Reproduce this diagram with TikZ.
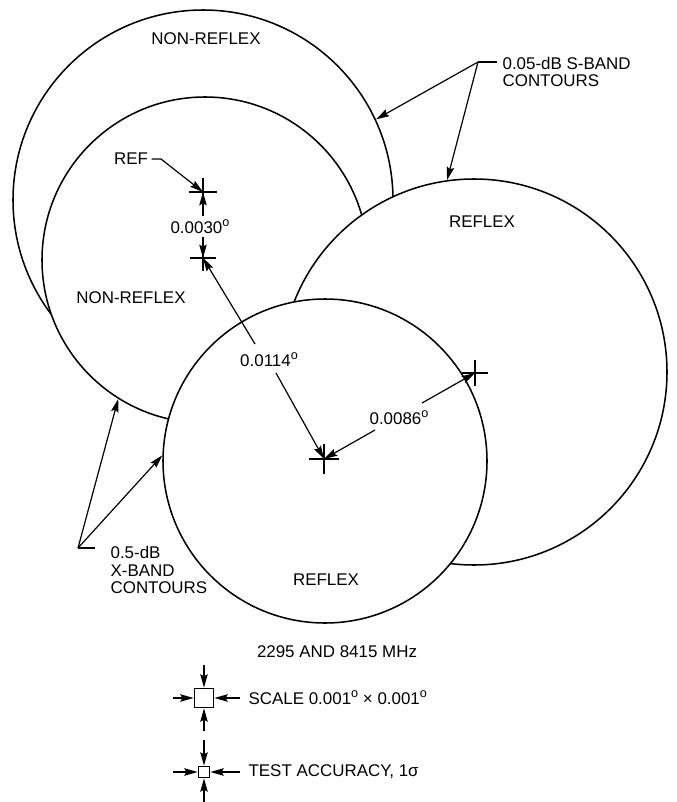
\documentclass[tikz,border=0pt]{standalone}
\usepackage{fontspec}
\setmainfont{Liberation Sans}
\usetikzlibrary{arrows.meta}
\newcommand{\degsup}{\raisebox{0.75ex}{\fontsize{9.5}{9.5}\selectfont o}}
\begin{document}
\begin{tikzpicture}[x=0.75pt,y=-0.75pt,line width=0.9pt,
  contour/.style={circle,draw,fill=white,inner sep=0pt,line width=1.15pt},
  lbl/.style={inner sep=0pt,font=\fontsize{12.7}{13}\selectfont},
  arr/.style={-{Stealth[length=10pt,width=5.6pt,inset=1.5pt]}},
  crossmark/.style={inner sep=0pt,minimum size=#1},
  legendbox/.style={draw,inner sep=0pt,line width=1.3pt,minimum size=#1}]
\useasboundingbox (0,0) rectangle (677,802);
% contours, back to front
\node[contour,minimum size=285pt] (outerNR) at (203,200) {};
\node[contour,minimum size=244.5pt] (innerNR) at (205,260) {};
\node[contour,minimum size=289.5pt] (outerR) at (474,372) {};
\node[contour,minimum size=243pt] (innerR) at (325,461) {};
% crosses
\node[crossmark=19.5pt] (ref) at (203,192) {};
\node[crossmark=18pt] (nr) at (203,258) {};
\node[crossmark=18pt] (rs) at (475,373) {};
\node[crossmark=21pt] (rx) at (324,459) {};
\foreach \c in {ref,nr,rs,rx}
  \draw (\c.north) -- (\c.south) (\c.west) -- (\c.east);
% region labels
\node[lbl] (t1) at (206,39) {NON-REFLEX};
\node[lbl] (t2) at (131,298) {NON-REFLEX};
\node[lbl] (t3) at (482,222) {REFLEX};
\node[lbl] (t4) at (326,580) {REFLEX};
% REF
\node[lbl] (reflbl) at (131,159) {REF};
\coordinate (refk) at (161,159);
\draw[arr] (reflbl.east) ++(3,0) -- (refk) -- (ref.center);
% 0.0030
\node[lbl] (l030) at (200,227) {0.0030\degsup};
\coordinate (a030u) at (203,216);
\coordinate (a030d) at (203,237);
\draw[arr] (a030u) -- (ref.center);
\draw[arr] (a030d) -- (nr.center);
% 0.0114
\node[lbl] (l114) at (269,360) {0.0114\degsup};
\coordinate (a114u) at (255,344);
\coordinate (a114d) at (276,373);
\draw[arr] (a114u) -- (nr.center);
\draw[arr] (a114d) -- (rx.center);
% 0.0086
\node[lbl] (l086) at (399,418) {0.0086\degsup};
\coordinate (a086u) at (422,403);
\coordinate (a086d) at (375,430);
\draw[arr] (a086u) -- (rs.center);
\draw[arr] (a086d) -- (rx.center);
% S-band callout
\node[lbl,anchor=west,align=left] (sband) at (502,72) {0.05-dB S-BAND\\CONTOURS};
\coordinate (sk) at (478,62);
\draw (497,62) -- (sk);
\draw[arr] (sk) -- (outerNR.25);
\draw[arr] (sk) -- (outerR.98);
% X-band callout
\node[lbl,anchor=west,align=left] (xband) at (110,570) {0.5-dB\\X-BAND\\CONTOURS};
\coordinate (xk) at (78,548);
\draw (95,548) -- (xk);
\draw[arr] (xk) -- (innerNR.238);
\draw[arr] (xk) -- (innerR.178.6);
% legend
\node[lbl] (freq) at (337,652) {2295 AND 8415 MHz};
\node[legendbox=14.25pt] (sq1) at (204,698) {};
\node[lbl,anchor=west] (scale) at (248,698) {SCALE 0.001\degsup{} × 0.001\degsup};
\coordinate (s1t) at (204,665);
\coordinate (s1b) at (204,731);
\coordinate (s1l) at (173,698);
\coordinate (s1r) at (240,698);
\draw[arr] (s1t) -- (sq1.north);
\draw[arr] (s1b) -- (sq1.south);
\draw[arr] (s1l) -- (sq1.west);
\draw[arr] (s1r) -- (sq1.east);
\node[legendbox=8.25pt] (sq2) at (204,772) {};
\node[lbl,anchor=west] (acc) at (248,772) {TEST ACCURACY, 1σ};
\coordinate (s2t) at (204,740);
\coordinate (s2b) at (204,802);
\coordinate (s2l) at (173,772);
\coordinate (s2r) at (240,772);
\draw[arr] (s2t) -- (sq2.north);
\draw[arr] (s2b) -- (sq2.south);
\draw[arr] (s2l) -- (sq2.west);
\draw[arr] (s2r) -- (sq2.east);
\end{tikzpicture}
\end{document}
